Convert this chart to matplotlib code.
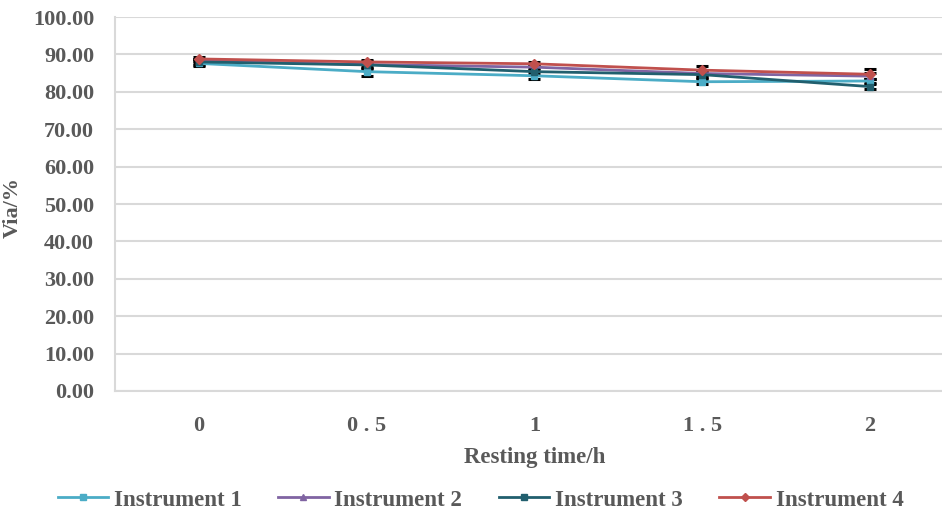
import numpy as np
import matplotlib.pyplot as plt

# data
times = ['0', '0 . 5', '1', '1 . 5', '2']
inst1 = [87.6, 85.4, 84.3, 82.7, 82.9]
inst2 = [88.3, 87.3, 86.6, 84.9, 84.2]
inst3 = [88.0, 87.2, 85.4, 84.6, 81.4]
inst4 = [88.8, 88.0, 87.5, 85.8, 84.7]
err1 = [0.8, 1.2, 1.0, 0.6, 0.6]
err2 = [0.6, 0.8, 0.8, 0.8, 0.8]
err3 = [0.8, 1.0, 1.0, 0.8, 0.6]
err4 = [0.6, 0.6, 0.6, 1.2, 1.4]

names = ['Instrument 1', 'Instrument 2', 'Instrument 3', 'Instrument 4']
colors = ['#4bacc6', '#8064a2', '#215f6e', '#c0504d']
markers = ['s', '^', 's', 'D']

plt.rcParams['font.family'] = ['Liberation Serif', 'DejaVu Serif']
plt.rcParams['font.weight'] = 'bold'
txt = '#595959'

fig = plt.figure(figsize=(9.42, 5.23), dpi=100)
ax = fig.add_axes([0.122, 0.2524, 0.8907, 0.715])

x = np.arange(len(times))
for vals, errs, name, c, m in zip([inst1, inst2, inst3, inst4],
                                  [err1, err2, err3, err4],
                                  names, colors, markers):
    ax.errorbar(x, vals, yerr=errs, color=c, marker=m, markersize=5,
                linewidth=2, ecolor='black', elinewidth=2, capsize=4.5,
                capthick=2.2, label=name, zorder=3)

ax.set_xlim(-0.5, 4.5)
ax.set_ylim(0, 100)
ax.set_yticks(np.arange(0, 101, 10))
ax.set_yticklabels([f'{v:.2f}' for v in range(0, 101, 10)])
ax.set_xticks(x)
ax.set_xticklabels(times)
ax.tick_params(length=0, labelsize=16, colors=txt)
ax.tick_params(axis='y', pad=15)
ax.tick_params(axis='x', pad=18)
ax.yaxis.grid(True, color='#d9d9d9', linewidth=1.5)
ax.set_axisbelow(True)
for s in ['top', 'right']:
    ax.spines[s].set_visible(False)
for s in ['left', 'bottom']:
    ax.spines[s].set_color('#d9d9d9')
    ax.spines[s].set_linewidth(1.5)

ax.set_xlabel('Resting time/h', fontsize=16.5, color=txt, fontweight='bold', labelpad=8)
fig.text(13 / 942, 1 - 208 / 523, 'Via/%', rotation=90, ha='center', va='center',
         fontsize=16, color=txt, fontweight='bold')

handles, labels = ax.get_legend_handles_labels()
handles = [h[0] for h in handles]
fig.legend(handles, labels, loc='center', bbox_to_anchor=(0.51, 0.044), ncol=4,
           frameon=False, fontsize=16.5, labelcolor=txt, handlelength=2.2,
           columnspacing=1.6, handletextpad=0.25, markerscale=0.8)

fig.savefig('out.png', dpi=100)
